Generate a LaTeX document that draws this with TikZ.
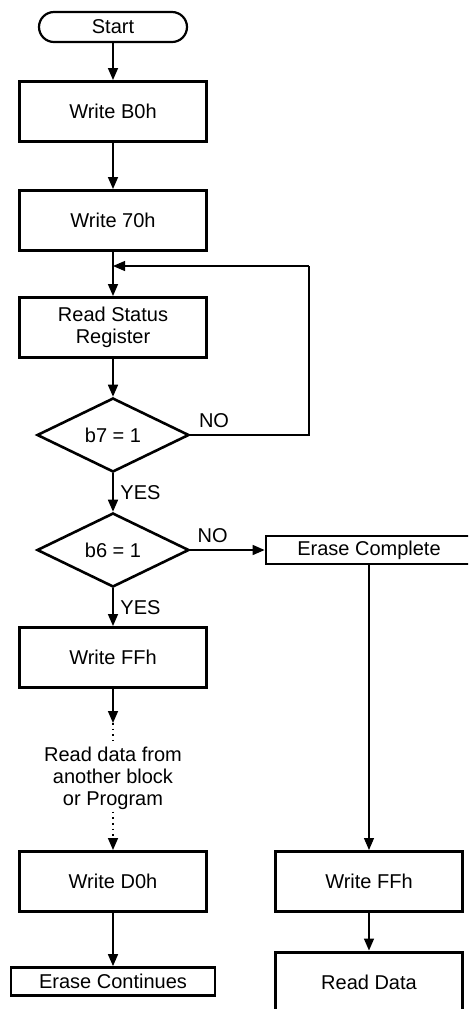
\documentclass[tikz,border=0pt]{standalone}
\usepackage{fontspec}
\setmainfont{Liberation Sans}
\usepackage{tikz}
\usetikzlibrary{arrows.meta,shapes.geometric,shapes.misc}

\begin{document}
\begin{tikzpicture}[align=center, font=\fontsize{10}{11}\selectfont,
    block/.style={draw=black, line width=1.5pt, rectangle, minimum width=93.5pt, minimum height=30pt, inner sep=1pt},
    flat/.style={draw=black, line width=1.4pt, rectangle, minimum width=102pt, minimum height=14pt, inner sep=1pt},
    term/.style={draw=black, line width=1.1pt, rounded rectangle, minimum width=76pt, minimum height=15pt, inner sep=1pt},
    test/.style={draw=black, line width=1.3pt, diamond, minimum width=76pt, minimum height=37pt, inner sep=0pt},
    arr/.style={-{Triangle[length=6pt,width=5pt]}, draw=black, line width=0.8pt},
    thinline/.style={draw=black, line width=0.55pt},
    dots/.style={draw=black, line width=0.8pt, dash pattern=on 0.8pt off 2pt},
    hub/.style={coordinate}]

    \useasboundingbox (0,0) rectangle (234pt,-504.5pt);
    \clip (0,0) rectangle (234pt,-504.5pt);

    % left column
    \node(start) [term] at (56.5pt,-13.5pt)                 {Start};
    \node(b0h)   [block, below of=start, node distance=42.25pt] {Write B0h};
    \node(w70h)  [block, below of=b0h, node distance=54.5pt]   {Write 70h};
    \node(rsr)   [block, below of=w70h, node distance=53.5pt]  {Read Status\\Register};
    \node(b7)    [test, below of=rsr, node distance=53.75pt]   {b7 = 1};
    \node(b6)    [test, below of=b7, node distance=57.5pt]     {b6 = 1};
    \node(wffh)  [block, below of=b6, node distance=53.75pt]   {Write FFh};
    \node(rdat)  [below of=wffh, node distance=60.25pt, inner sep=1pt] {Read data from\\another block\\or Program};
    \node(wd0h)  [block, below of=rdat, node distance=51.75pt] {Write D0h};
    \node(econt) [flat, below of=wd0h, node distance=50pt]     {Erase Continues};

    % right column
    \node(ecomp) [flat, minimum width=103pt, right of=b6, node distance=128pt] {Erase Complete};
    \node(wffh2) [block, right of=wd0h, node distance=128pt]   {Write FFh};
    \node(rd2)   [block, below of=wffh2, node distance=50.25pt] {Read Data};

    % helper points
    \node(join) [hub, below of=w70h, node distance=22.75pt] {};
    \node(loop) [hub, right of=join, node distance=98pt]    {};
    \node(gap)  [hub, below of=wffh, node distance=32.75pt] {};

    % main flow
    \draw [arr] (start) to (b0h);
    \draw [arr] (b0h) to (w70h);
    \draw [arr] (w70h) to (rsr);
    \draw [arr] (rsr) to (b7);
    \draw [arr] (b7) to node [right] {YES} (b6);
    \draw [arr] (b6) to node [right] {YES} (wffh);
    \draw [arr] (wffh) to (gap);
    \draw [dots] (gap) to (rdat.north);
    \draw [dots, -{Triangle[length=6pt,width=5pt]}] (rdat.south) to (wd0h.north);
    \draw [arr] (wd0h) to (econt);

    % NO branches
    \draw [thinline] (b7.east) -| node [pos=0.1, above] {NO} (loop);
    \draw [thinline, -{Triangle[length=6pt,width=5pt]}] (loop) to (join);
    \draw [arr] (b6.east) to node [pos=0.3, above] {NO} (ecomp.west);
    \draw [thinline, -{Triangle[length=6pt,width=5pt]}] (ecomp.south -| wffh2.north) to (wffh2.north);
    \draw [arr] (wffh2) to (rd2);

\end{tikzpicture}
\end{document}
